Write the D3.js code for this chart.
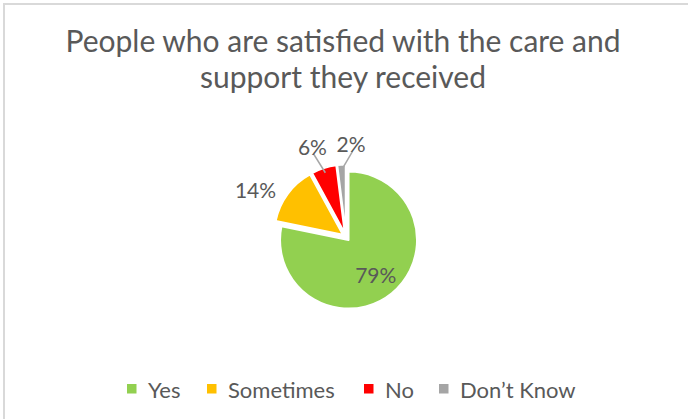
<!DOCTYPE html>
<html>
<head>
<meta charset="utf-8">
<script src="https://cdn.jsdelivr.net/npm/d3@7"></script>
<style>
  html, body { margin: 0; padding: 0; background: #fff; }
  svg { display: block; }
  text { font-family: Lato, "Open Sans", sans-serif; fill: #595959; }
</style>
</head>
<body>
<svg id="chart" width="688" height="419"></svg>
<script>
// Survey responses
const categories = ["Yes", "Sometimes", "No", "Don\u2019t Know"];
const percents = [79, 14, 6, 2];
const colors = ["#92D050", "#FFC000", "#FF0000", "#A5A5A5"];
const titleLines = ["People who are satisfied with the care and", "support they received"];

const W = 688, H = 419;
const svg = d3.select("#chart");

// Chart-area frame
svg.append("rect")
  .attr("x", 4).attr("y", 4)
  .attr("width", W + 10).attr("height", H + 10)
  .attr("fill", "#fff")
  .attr("stroke", "#D9D9D9").attr("stroke-width", 2);

// Title
svg.append("g").selectAll("text")
  .data(titleLines).join("text")
  .attr("x", 343)
  .attr("y", (d, i) => 52 + i * 36)
  .attr("text-anchor", "middle")
  .attr("font-size", 30)
  .text(d => d);

// Pie
const cx = 346, cy = 237, R = 68.5, explode = 4;
const data = categories.map((c, i) => ({ cat: c, value: percents[i], color: colors[i] }));
const pie = d3.pie().value(d => d.value).sort(null);
const arcs = pie(data);
const arc = d3.arc().innerRadius(0).outerRadius(R);
const mid = a => (a.startAngle + a.endAngle) / 2;
const polar = (ang, r) => [Math.sin(ang) * r, -Math.cos(ang) * r];

const g = svg.append("g").attr("transform", `translate(${cx},${cy})`);

g.selectAll("path.slice")
  .data(arcs).join("path")
  .attr("class", "slice")
  .attr("transform", d => { const [x, y] = polar(mid(d), explode); return `translate(${x},${y})`; })
  .attr("d", arc)
  .attr("fill", d => d.data.color)
  .attr("stroke", "#fff")
  .attr("stroke-width", 2)
  .attr("stroke-linejoin", "round");

// Data labels: largest slice labelled inside, others outside (thin slices get leader lines)
const labelRadius = [49.5, 99.3, 94, 92.7];
const labelShift = [[-1.5, 0], [-10.7, 12.6], [-4.8, 0], [10.8, 0]];
const labelPos = arcs.map((a, i) => {
  const [x, y] = polar(mid(a), labelRadius[i]);
  return [x + labelShift[i][0], y + labelShift[i][1]];
});

const leaders = [2, 3];
g.selectAll("path.leader")
  .data(leaders).join("path")
  .attr("class", "leader")
  .attr("fill", "none")
  .attr("stroke", "#A6A6A6")
  .attr("stroke-width", 1.5)
  .attr("d", i => {
    const a = arcs[i];
    const [ex, ey] = polar(mid(a), explode);
    const [px, py] = polar(mid(a), R - 5);
    const [lx, ly] = labelPos[i];
    return `M${lx + 1.5},${ly + 7}L${px + ex},${py + ey}`;
  });

g.selectAll("text.lbl")
  .data(arcs).join("text")
  .attr("class", "lbl")
  .attr("x", (d, i) => labelPos[i][0])
  .attr("y", (d, i) => labelPos[i][1])
  .attr("dy", "0.36em")
  .attr("text-anchor", "middle")
  .attr("font-size", 21)
  .text(d => d.data.value + "%");

// Legend
const legendX = [127, 207, 364, 439];
const lg = svg.append("g");
const items = lg.selectAll("g").data(data).join("g")
  .attr("transform", (d, i) => `translate(${legendX[i]},384)`);
items.append("rect").attr("width", 9.5).attr("height", 9.5).attr("fill", d => d.color);
items.append("text").attr("x", 21).attr("y", 14).attr("font-size", 22).text(d => d.cat);
</script>
</body>
</html>
